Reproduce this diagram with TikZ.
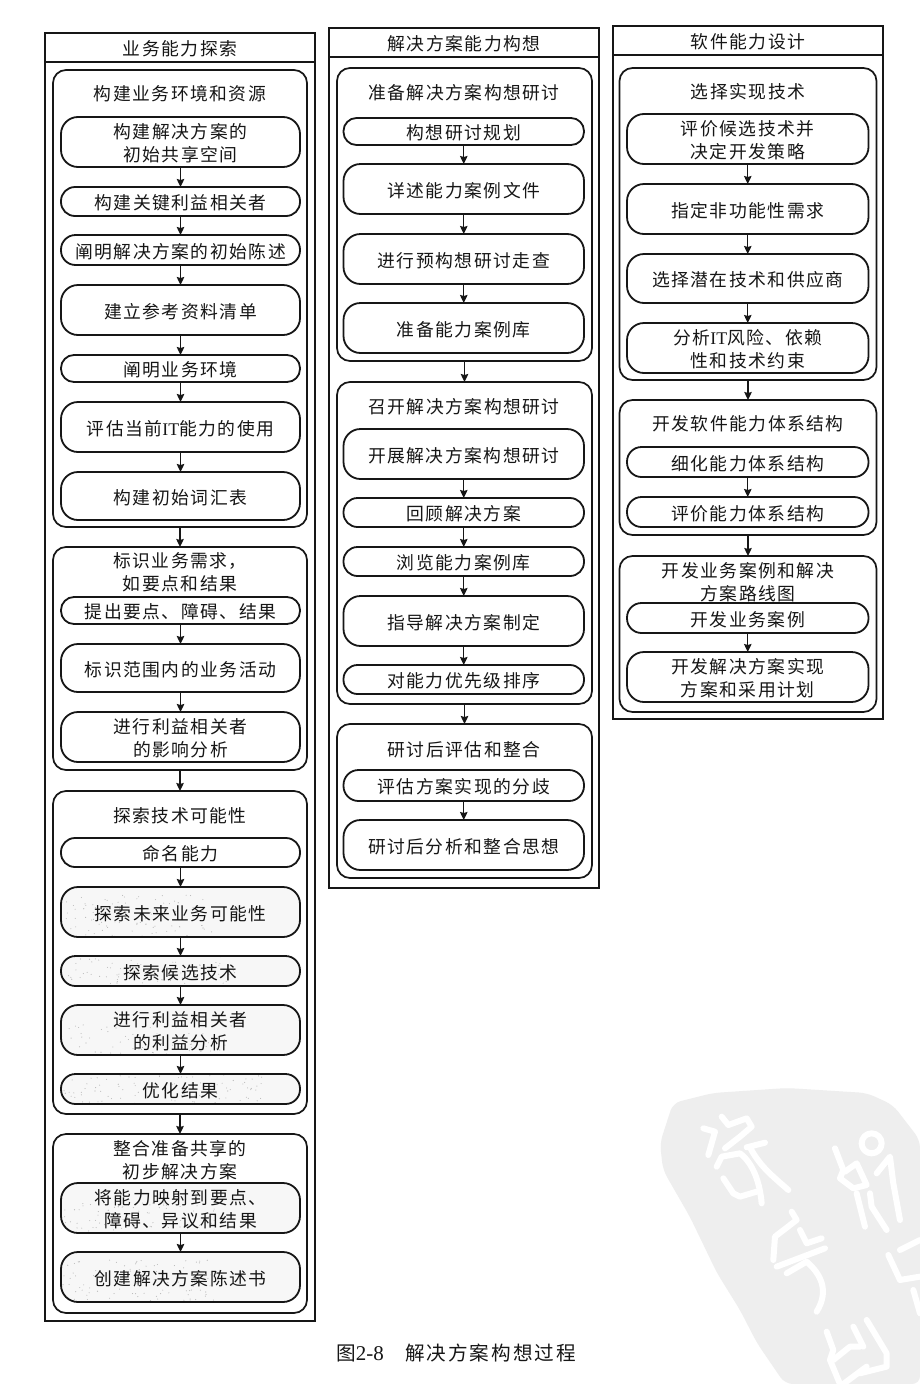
\documentclass[tikz,border=0pt]{standalone}
\usepackage{fontspec}
\setmainfont[LetterSpace=8.4]{Noto Sans CJK SC}
\newfontfamily\capfont[LetterSpace=10]{Noto Sans CJK SC}
\newfontfamily\latinfont{Liberation Serif}
\usetikzlibrary{arrows.meta}
\definecolor{ink}{HTML}{161616}
\definecolor{seal}{HTML}{EEEEEE}
\definecolor{speck}{HTML}{F7F7F7}
\newcommand\St{\rule{0pt}{17.6pt}}
\newcommand\IT{{\latinfont IT}}
\tikzset{
  x=1pt,y=-1pt,
  frameline/.style={draw=ink,line width=1.8pt,inner sep=0pt,outer sep=0pt,text=ink,font=\fontsize{17.8}{23.5}\selectfont},
  groupbox/.style={draw=ink,line width=1.7pt,rounded corners=13pt,inner sep=0pt,outer sep=0pt},
  stepbox/.style={draw=ink,fill=white,line width=1.8pt,inner sep=0pt,outer sep=0pt,align=center,text=ink,font=\fontsize{17.8}{23.5}\selectfont},
  shaded/.style={stepbox,fill=speck,path picture={
      \foreach \i in {1,...,170}
        \fill[black!28] ({rand*120},{rand*25}) circle (0.55pt);}},
  lab/.style={inner sep=0pt,align=center,text=ink,font=\fontsize{17.8}{23.5}\selectfont},
  flow/.style={draw=ink,line width=1.4pt,-{Stealth[length=8pt,width=7.5pt,inset=1pt]}},
  sealstroke/.style={draw=white,line width=6pt,line cap=round,line join=round}
}
\newcommand\Bx[7]{\node[#1,minimum width={(#4-#3)*1pt},minimum height={(#6-#5)*1pt}] (#2) at ({(#3+#4)/2},{(#5+#6)/2}) {\St #7};}
\newcommand\Sx[7]{\Bx{#1,rounded corners={min(17,(#6-#5)/2-0.5)*1pt}}{#2}{#3}{#4}{#5}{#6}{#7}}
\pgfmathsetseed{7}
\begin{document}
\begin{tikzpicture}
\useasboundingbox (0,0) rectangle (920,1384);
\fill[white] (0,0) rectangle (920,1384);
% seal watermark
\fill[seal,rounded corners=8pt] (660,1143) -- (673,1103) -- (713,1093) -- (787,1088) -- (867,1093) -- (893,1105) -- (920,1140) -- (920,1384) -- (785,1384) -- (757,1343) -- (740,1310) -- (717,1273) -- (690,1217) -- (663,1170) -- cycle;
\begin{scope}[shift={(600,1060)},x=0.3333pt,y=-0.3333pt]
\draw[sealstroke] (310,205) -- (345,215) -- (325,285);
\draw[sealstroke] (365,170) -- (385,195) -- (440,175) -- (455,200) -- (420,230) -- (375,265);
\draw[sealstroke] (440,262) -- (495,248);
\draw[sealstroke] (450,262) .. controls (480,320) and (520,350) .. (565,390);
\draw[sealstroke] (350,320) -- (365,290) -- (420,280) .. controls (460,310) and (480,370) .. (485,430);
\draw[sealstroke] (370,355) -- (400,400) -- (420,410) -- (470,395);
\draw[sealstroke] (705,265) -- (730,330) -- (720,355) -- (760,385) -- (800,375) -- (770,310) -- (735,335);
\draw[sealstroke] (815,250) circle (30);
\draw[sealstroke] (830,340) -- (870,290) -- (880,370) -- (900,480);
\draw[sealstroke] (770,400) -- (795,500);
\draw[sealstroke] (810,400) -- (815,440) -- (860,510);
\draw[sealstroke] (575,455) -- (590,480) -- (525,530) -- (520,600);
\draw[sealstroke] (600,510) -- (620,550) -- (665,535);
\draw[sealstroke] (530,620) -- (675,565);
\draw[sealstroke] (560,640) -- (620,605) .. controls (660,640) and (690,690) .. (650,755);
\draw[sealstroke] (680,815) -- (700,870) -- (690,900) -- (720,972);
\draw[sealstroke] (760,800) -- (790,860);
\draw[sealstroke] (800,780) -- (860,880) -- (860,920) -- (780,940);
\draw[sealstroke] (700,900) -- (750,860) -- (780,860);
\draw[sealstroke] (730,972) -- (800,920);
\draw[sealstroke] (865,585) -- (900,660) -- (960,650);
\draw[sealstroke] (900,570) -- (960,540);
\draw[sealstroke] (940,690) -- (960,760);
\end{scope}

% ===== column 1
\Bx{frameline}{F1}{45}{315}{33}{1321}{}
\Bx{frameline}{H1}{45}{315}{33}{62}{业务能力探索}
\Bx{groupbox}{A}{53}{307}{70}{527}{}
\Bx{groupbox}{B}{53}{307}{547}{770}{}
\Bx{groupbox}{C}{53}{307}{791}{1114}{}
\Bx{groupbox}{D}{53}{307}{1134}{1313}{}
\node[lab] (tA) at (180,94) {构建业务环境和资源};
\Sx{stepbox}{a1}{61}{300}{117}{167}{构建解决方案的\\初始共享空间}
\Sx{stepbox}{a2}{61}{300}{187}{216}{构建关键利益相关者}
\Sx{stepbox}{a3}{61}{300}{235}{265}{阐明解决方案的初始陈述}
\Sx{stepbox}{a4}{61}{300}{285}{335}{建立参考资料清单}
\Sx{stepbox}{a5}{61}{300}{355}{382}{阐明业务环境}
\Sx{stepbox}{a6}{61}{300}{402}{452}{评估当前\IT 能力的使用}
\Sx{stepbox}{a7}{61}{300}{472}{520}{构建初始词汇表}
\node[lab] (tB) at (180,572) {标识业务需求，\\如要点和结果};
\Sx{stepbox}{b1}{61}{300}{597}{624}{提出要点、障碍、结果}
\Sx{stepbox}{b2}{61}{300}{644}{692}{标识范围内的业务活动}
\Sx{stepbox}{b3}{61}{300}{712}{762}{进行利益相关者\\的影响分析}
\node[lab] (tC) at (180,816) {探索技术可能性};
\Sx{stepbox}{c1}{61}{300}{838}{867}{命名能力}
\Sx{shaded}{c2}{61}{300}{887}{937}{探索未来业务可能性}
\Sx{shaded}{c3}{61}{300}{956}{986}{探索候选技术}
\Sx{shaded}{c4}{61}{300}{1005}{1055}{进行利益相关者\\的利益分析}
\Sx{shaded}{c5}{61}{300}{1074}{1104}{优化结果}
\node[lab] (tD) at (180,1160) {整合准备共享的\\初步解决方案};
\Sx{shaded}{d1}{61}{300}{1183}{1233}{将能力映射到要点、\\障碍、异议和结果}
\Sx{shaded}{d2}{61}{300}{1252}{1302}{创建解决方案陈述书}

% ===== column 2
\Bx{frameline}{F2}{329}{599}{28}{888}{}
\Bx{frameline}{H2}{329}{599}{28}{57}{解决方案能力构想}
\Bx{groupbox}{E}{337}{592}{68}{361}{}
\Bx{groupbox}{G}{337}{592}{382}{704}{}
\Bx{groupbox}{K}{337}{592}{724}{878}{}
\node[lab] (tE) at (464,93) {准备解决方案构想研讨};
\Sx{stepbox}{e1}{343.5}{584}{118}{145}{构想研讨规划}
\Sx{stepbox}{e2}{343.5}{584}{164}{214}{详述能力案例文件}
\Sx{stepbox}{e3}{343.5}{584}{234}{284}{进行预构想研讨走查}
\Sx{stepbox}{e4}{343.5}{584}{303}{353}{准备能力案例库}
\node[lab] (tG) at (464,407) {召开解决方案构想研讨};
\Sx{stepbox}{g1}{343.5}{584}{429}{479}{开展解决方案构想研讨}
\Sx{stepbox}{g2}{343.5}{584}{498}{527}{回顾解决方案}
\Sx{stepbox}{g3}{343.5}{584}{547}{576}{浏览能力案例库}
\Sx{stepbox}{g4}{343.5}{584}{596}{646}{指导解决方案制定}
\Sx{stepbox}{g5}{343.5}{584}{665}{694}{对能力优先级排序}
\node[lab] (tK) at (464,750) {研讨后评估和整合};
\Sx{stepbox}{k1}{343.5}{584}{770}{801}{评估方案实现的分歧}
\Sx{stepbox}{k2}{343.5}{584}{820}{870}{研讨后分析和整合思想}

% ===== column 3
\Bx{frameline}{F3}{613}{883}{26}{719}{}
\Bx{frameline}{H3}{613}{883}{26}{55}{软件能力设计}
\Bx{groupbox}{M}{619.5}{876.5}{68}{380}{}
\Bx{groupbox}{N}{619.5}{876.5}{400}{535}{}
\Bx{groupbox}{P}{619.5}{876.5}{556}{712}{}
\node[lab] (tM) at (748,92) {选择实现技术};
\Sx{stepbox}{m1}{627}{868.5}{114}{164}{评价候选技术并\\决定开发策略}
\Sx{stepbox}{m2}{627}{868.5}{184}{234}{指定非功能性需求}
\Sx{stepbox}{m3}{627}{868.5}{254}{303}{选择潜在技术和供应商}
\Sx{stepbox}{m4}{627}{868.5}{323}{373}{分析\IT 风险、依赖\\性和技术约束}
\node[lab] (tN) at (748,424) {开发软件能力体系结构};
\Sx{stepbox}{n1}{627}{868.5}{447}{477}{细化能力体系结构}
\Sx{stepbox}{n2}{627}{868.5}{497}{527}{评价能力体系结构}
\node[lab] (tP) at (748,582) {开发业务案例和解决\\方案路线图};
\Sx{stepbox}{p1}{627}{868.5}{603}{633}{开发业务案例}
\Sx{stepbox}{p2}{627}{868.5}{652}{702}{开发解决方案实现\\方案和采用计划}

% connectors
\foreach \p/\q in {a1/a2,a2/a3,a3/a4,a4/a5,a5/a6,a6/a7,A/B,b1/b2,b2/b3,B/C,c1/c2,c2/c3,c3/c4,c4/c5,C/D,d1/d2,
  e1/e2,e2/e3,e3/e4,E/G,g1/g2,g2/g3,g3/g4,g4/g5,G/K,k1/k2,
  m1/m2,m2/m3,m3/m4,M/N,n1/n2,N/P,p1/p2}
  \draw[flow] (\p.south) -- (\q.north);

\node[inner sep=0pt,text=ink,anchor=west,font=\capfont\fontsize{19.6}{23}\selectfont] (cap) at (336,1353) {\makebox[69pt][l]{图{\latinfont\fontsize{21}{23}\selectfont 2-8}}解决方案构想过程};
\end{tikzpicture}
\end{document}
